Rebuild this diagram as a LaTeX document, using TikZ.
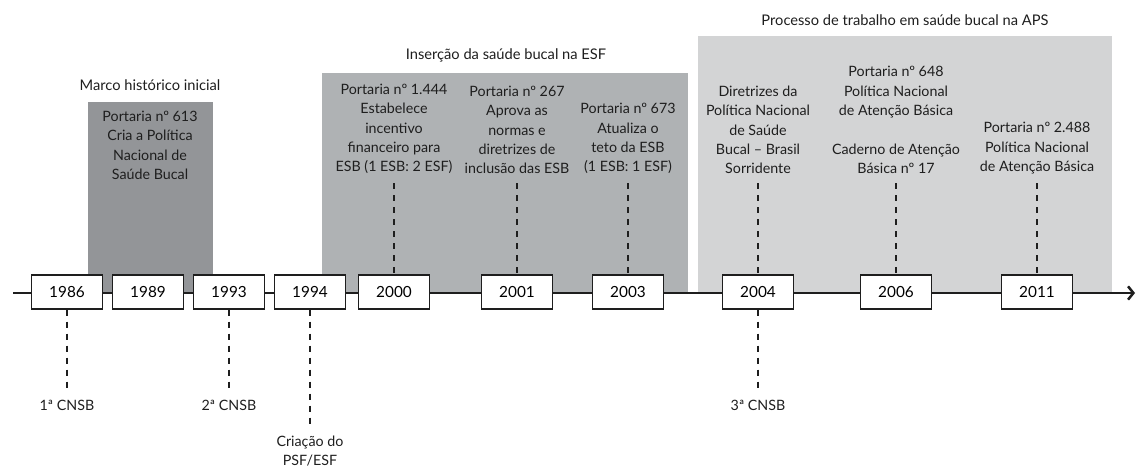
\documentclass[tikz,border=0pt]{standalone}
\usepackage{fontspec}
\setmainfont{Lato}
\usepackage{xcolor}
\usepackage{tikz}
\usetikzlibrary{arrows.meta,positioning}

\definecolor{marcogray}{RGB}{147,149,152}
\definecolor{esfgray}{RGB}{175,178,180}
\definecolor{apsgray}{RGB}{211,212,213}
\definecolor{inkgray}{RGB}{30,30,30}

\begin{document}
\begin{tikzpicture}[
    x=0.75pt, y=-0.75pt,
    year/.style={draw=inkgray, fill=white, line width=0.9pt, minimum width=53pt,
                 minimum height=25.5pt, inner sep=0pt, font=\fontsize{11.5}{13}\selectfont},
    event/.style={align=center, inner xsep=0pt, inner ysep=6.5pt, text=inkgray,
                  font=\fontsize{10.7}{14.6}\selectfont},
    phase/.style={inner sep=0pt, text=inkgray, font=\fontsize{11}{13}\selectfont},
    guide/.style={draw=inkgray, line width=0.9pt, dash pattern=on 4.5pt off 4.5pt},
    timeline/.style={draw=inkgray, line width=1.9pt, -{Straight Barb[length=4pt,width=10pt]}}
]
    \useasboundingbox (0,0) rectangle (1136,468);

    % Phase panels
    \fill[marcogray] (88,102) rectangle (213,293);
    \fill[esfgray] (322,73) rectangle (688,293);
    \fill[apsgray] (698,36) rectangle (1112,293);

    \node[phase] (marco) at (150,85) {Marco histórico inicial};
    \node[phase] (insercao) at (506,55) {Inserção da saúde bucal na ESF};
    \node[phase] (processo) at (905,20) {Processo de trabalho em saúde bucal na APS};

    % Time axis
    \coordinate (start) at (13,293);
    \coordinate (end) at (1135,293);
    \draw[timeline] (start) -- (end);

    % Years
    \node[year] (y1986) at (67,292) {1986};
    \node[year] (y1989) at (148,292) {1989};
    \node[year] (y1993) at (229,292) {1993};
    \node[year] (y1994) at (310,292) {1994};
    \node[year] (y2000) at (394,292) {2000};
    \node[year] (y2001) at (517,292) {2001};
    \node[year] (y2003) at (628,292) {2003};
    \node[year] (y2004) at (758,292) {2004};
    \node[year] (y2006) at (896,292) {2006};
    \node[year] (y2011) at (1037,292) {2011};

    % Events above the axis
    \node[event, anchor=north] (e1989) at (150,102)
        {Portaria nº 613\\Cria a Política\\Nacional de\\Saúde Bucal};
    \node[event, anchor=south] (e2000) at (394,183)
        {Portaria nº 1.444\\Estabelece\\incentivo\\financeiro para\\ESB (1 ESB: 2 ESF)};
    \node[event, anchor=south] (e2001) at (517,183)
        {Portaria nº 267\\Aprova as\\normas e\\diretrizes de\\inclusão das ESB};
    \node[event, anchor=south] (e2003) at (628,183)
        {Portaria nº 673\\Atualiza o\\teto da ESB\\(1 ESB: 1 ESF)};
    \node[event, anchor=south] (e2004) at (758,183)
        {Diretrizes da\\Política Nacional\\de Saúde\\Bucal – Brasil\\Sorridente};
    \node[event, anchor=south] (e2006) at (896,183)
        {Portaria nº 648\\Política Nacional\\de Atenção Básica\\[14.6pt]Caderno de Atenção\\Básica nº 17};
    \node[event, anchor=south] (e2011) at (1037,183)
        {Portaria nº 2.488\\Política Nacional\\de Atenção Básica};

    % Events below the axis
    \node[event, anchor=north] (c1986) at (67,391) {1ª CNSB};
    \node[event, anchor=north] (c1993) at (229,391) {2ª CNSB};
    \node[event, anchor=north] (c1994) at (310,427) {Criação do\\PSF/ESF};
    \node[event, anchor=north] (c2004) at (758,391) {3ª CNSB};

    % Guides
    \draw[guide] (e2000) -- (y2000);
    \draw[guide] (e2001) -- (y2001);
    \draw[guide] (e2003) -- (y2003);
    \draw[guide] (e2004) -- (y2004);
    \draw[guide] (e2006) -- (y2006);
    \draw[guide] (e2011) -- (y2011);
    \draw[guide] (y1986) -- (c1986);
    \draw[guide] (y1993) -- (c1993);
    \draw[guide] (y1994) -- (c1994);
    \draw[guide] (y2004) -- (c2004);
\end{tikzpicture}
\end{document}
